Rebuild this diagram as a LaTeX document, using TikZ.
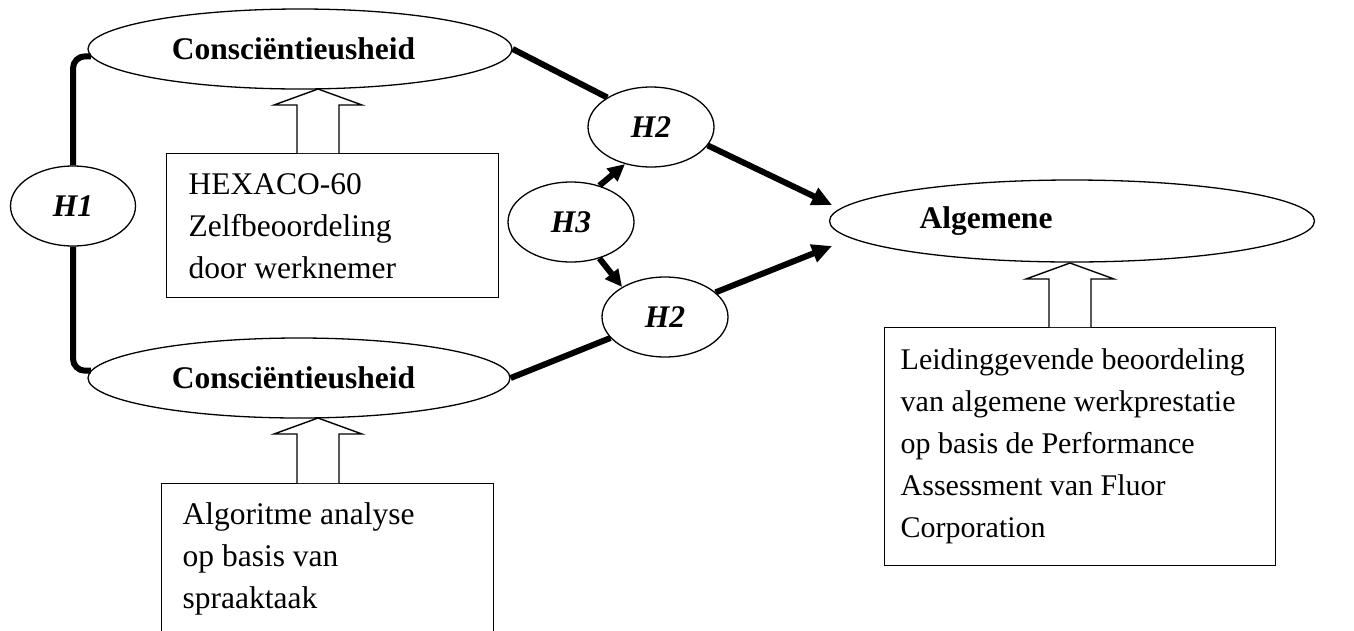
\documentclass[tikz,border=0pt]{standalone}
\usepackage{fontspec}
\setmainfont{Liberation Serif}
\usetikzlibrary{shapes.geometric,arrows.meta,calc}

\tikzset{
  oval/.style={ellipse, draw, line width=1.3pt, inner sep=0pt,
    font=\fontsize{31.5}{38}\selectfont\bfseries},
  hyp/.style={oval, font=\fontsize{31.5}{38}\selectfont\bfseries\itshape,
    minimum width=126pt, minimum height=80pt},
  infobox/.style={draw, rectangle, line width=1.4pt, align=flush left, anchor=north west,
    inner ysep=0pt, font=\fontsize{31.5}{42}\selectfont},
  thicklink/.style={line width=6pt},
  arrowlink/.style={thicklink, -{Triangle[length=20pt,width=18pt]}},
  smallarrow/.style={thicklink, -{Triangle[length=17pt,width=16pt]}},
  bracket/.style={line width=6pt, rounded corners=12pt},
  blockarrow/.style={draw, line width=1.4pt, fill=white, line join=miter},
}

% hollow upward block arrow: tip at #1, shaft standing on the top edge of node #2
\newcommand\hollowup[2]{%
  \draw[blockarrow] let \p1=(#1), \p2=(#2.north) in
    (\x1-21pt,\y2) -- (\x1-21pt,\y1-16pt) -- (\x1-44pt,\y1-16pt) -- (\p1)
    -- (\x1+44pt,\y1-16pt) -- (\x1+21pt,\y1-16pt) -- (\x1+21pt,\y2);}

\begin{document}
\begin{tikzpicture}[x=1pt,y=-1pt]
\useasboundingbox (0,0) rectangle (1354,630);

% constructs
\node[oval, minimum width=424pt, minimum height=80pt] (csTop) at (300,49) {Consciëntieusheid\hspace*{13pt}};
\node[oval, minimum width=422pt, minimum height=80pt] (csBot) at (299,378) {Consciëntieusheid\hspace*{11pt}};
\node[oval, minimum width=485pt, minimum height=82pt] (alg) at (1072,221) {Algemene\hspace*{172pt}};

% hypotheses
\node[hyp, minimum width=125pt] (h1) at (73,206) {H1};
\node[hyp] (h2a) at (651,127) {H2};
\node[hyp] (h3) at (571,222) {H3};
\node[hyp] (h2b) at (665,317) {H2};

% measurement boxes
\node[infobox, inner xsep=22pt, text width=288pt, minimum height=144pt] (hexbox) at (166,153)
  {HEXACO-60\\Zelfbeoordeling\\door werknemer};
\node[infobox, inner xsep=21pt, text width=290pt, minimum height=150pt] (algobox) at (161,483)
  {Algoritme analyse\\op basis van\\spraaktaak};
\node[infobox, inner xsep=16pt, text width=359pt, minimum height=238pt,
      font=\fontsize{30}{42}\selectfont] (perfbox) at (884,327)
  {Leidinggevende beoordeling\\van algemene werkprestatie\\op basis de Performance\\Assessment van Fluor\\Corporation};

% block arrows from measures to constructs
\coordinate (tipTop) at (318,89);
\coordinate (tipBot) at (318,418);
\coordinate (tipAlg) at (1070,263);
\hollowup{tipTop}{hexbox}
\hollowup{tipBot}{algobox}
\hollowup{tipAlg}{perfbox}

% H1 bracket
\draw[bracket] (csTop.182) -| (h1.north);
\draw[bracket] (h1.south) |- (csBot.178);

% paths through H2 to the outcome
\coordinate (inA) at (832,205);
\coordinate (inB) at (832,246);
\draw[thicklink] (csTop.east) -- (h2a.146);
\draw[arrowlink] (h2a.-18) -- (inA);
\draw[thicklink] (csBot.east) -- (h2b.201);
\draw[arrowlink] (h2b.26) -- (inB);

% H3 moderation
\draw[smallarrow] (h3.52) -- (h2a.235);
\draw[smallarrow] (h3.-52) -- (h2b.145);
\end{tikzpicture}
\end{document}
